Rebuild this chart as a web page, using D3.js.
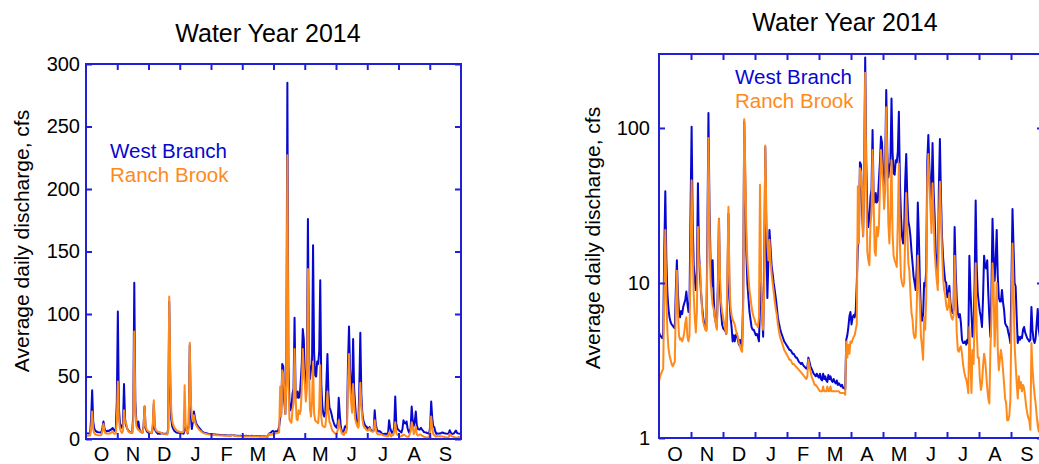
<!DOCTYPE html>
<html><head><meta charset="utf-8">
<script src="https://cdn.jsdelivr.net/npm/d3@7"></script>
<style>
body{margin:0;background:#fff;}
svg{display:block;}
text{font-family:"Liberation Sans",Arial,sans-serif;}
</style>
</head><body>
<svg id="c" width="1039" height="464"></svg>
<script>
const months = ["O","N","D","J","F","M","A","M","J","J","A","S"];
const seriesNames = ["West Branch","Ranch Brook"];
const titleText = "Water Year 2014";
const yLabelText = "Average daily discharge, cfs";
const linearTicks = [0,50,100,150,200,250,300];
const logTicks = [1,10,100];

// Daily mean discharge, cfs, Oct 1 2013 - Sep 30 2014
const westBranch = [
4.8,4.6,4.5,4.4,4.7,16,39,14,8.5,6.8,6.0,5.6,5.4,5.3,5.2,5.1,9,14,8.5,6.5,6.0,6.6,6.3,7.0,7.4,7.8,8.8,7.4,6.5,7.5,30,
102,25,13,10.4,9.0,12,44,16,11,8.5,7.0,6.0,5.4,5.1,5.0,20,125,30,14,9.5,14,8.0,6.0,5.6,5.2,10,26,9.0,6.5,5.4,
5.1,5.0,4.9,4.7,9,28,8.0,6.0,5.2,4.2,4.6,4.2,4.6,4.7,4.3,4.0,4.3,4.1,3.9,8,110,45,16,10,8.0,6.5,5.8,5.2,5.0,5.0,4.8,
4.6,4.7,4.5,4.2,7,10,6.5,4.5,12,75,20,8,14,22,17,13,11.5,10,9,8,7,6.0,5.5,5.1,4.8,4.6,4.4,4.2,4.1,4.0,3.9,
3.8,3.7,3.7,3.6,3.5,3.5,3.4,3.3,3.3,3.2,3.1,3.05,3.0,3.05,2.95,2.9,2.85,2.8,2.85,3.3,3.1,2.9,2.8,2.7,2.6,2.55,2.5,2.6,
2.5,2.45,2.6,2.4,2.35,2.6,2.4,2.5,2.35,2.3,2.55,2.4,2.5,2.35,2.3,2.4,2.3,2.25,2.35,2.2,2.25,2.2,2.15,2.2,2.1,2.1,2.05,4.3,4.6,5.2,6.1,
6.5,5.4,6.0,6.2,6.0,6.6,10,17,20,60,58,30,20,50,285,60,30,23,26,36,40,97,36,33,38,33,34,46,60,88,
80,48,40,56,176,70,48,56,60,155,70,51,50,62,60,70,127,44,27,20,18,22,45,68,36,25,23,20,16,13.4,11,
10,9,13,33,20,10,6.5,5.7,6.0,10,9.5,12,60,90,56,40,35,80,40,27,16,12.7,10,40,85,36,20,14.7,12,10.3,
10,8.1,8.5,9.6,7.5,6.7,6.4,6.8,23,12,8,6.4,6.0,6.3,5.5,4.3,4.1,4.1,4.2,4.0,4.3,4.1,15,9,6.4,4.5,5.0,10,34,12.7,8.5,
7.4,6.5,6.0,5.2,8,15,12.7,12.4,14,8.6,6,4.5,9,26,15,10.3,14,22,11,8.1,7.6,7.6,9,7.5,6.7,5.5,5.3,5.2,4.8,4.5,4.1,
10,30,17,10,9.5,6,4.1,4.5,4.3,4.5,4.4,5.0,5.2,4.8,4.6,4.4,4.3,4.2,4.3,7,5.0,4.3,4.1,4.4,5.5,6.8,5.0,4.5,4.3,4.2
];
const ranchBrook = [
2.3,2.5,2.6,2.7,2.8,9,22,8,4.8,3.8,3.4,3.2,3.0,2.9,3.0,3.1,7,12,6.5,4.6,4.3,4.4,4.2,4.4,4.8,5.5,6.0,4.5,4.2,4.6,14,
46,16,8.5,6.0,4.8,6.5,23,13,13,9,6.5,5.6,5.3,5.0,4.9,15,86,24,10.5,8.5,7.2,6.8,6.0,5.4,5.0,9,26,11,7.5,6.5,
6.0,5.4,5.0,4.7,12,31,10,7.0,6.2,5.8,5.6,5.4,5.0,4.7,4.5,4.1,3.9,3.7,3.6,7,114,55,22,14,11,9,8,7,6.4,6.0,5.8,
5.4,5.4,5.2,6,43,12,6,5.0,9,77,30,18,14,19,14,11.5,10,8.8,7.6,6.8,6.2,5.4,4.9,4.5,4.3,4.1,3.9,3.7,3.6,3.5,3.4,
3.3,3.2,3.2,3.1,3.0,3.0,2.95,2.9,2.85,2.8,2.75,2.7,2.65,2.6,2.55,2.5,2.45,2.4,2.5,3.2,2.9,2.7,2.5,2.4,2.3,2.2,2.2,2.15,
2.1,2.05,2.0,2.0,2.0,2.15,2.0,2.0,2.0,2.15,2.0,2.0,2.15,2.0,2.0,2.0,2.0,2.0,2.0,2.0,2.0,1.95,1.95,1.95,1.95,1.95,1.9,4.2,3.3,4.0,3.5,
4.2,4.1,4.3,4.5,4.6,5.0,5.4,42,18,55,52,40,20,45,227,45,16,14,13,24,28,72,34,16,15,23,20,23,40,72,
55,44,30,40,136,60,24,18,30,62,21,15,14,13.4,12.7,25,59,18,11,10,9.5,10,20,38,22,13.4,12,8.6,6.4,5.8,4.7,
4.4,4.5,7,15,10,7.4,4.5,3.9,3.2,6,5,8,45,68,44,30,21,44,28,16,12.7,10.4,9,25,45,27,16,11,9,8.4,
7.2,6.7,7.0,8.6,6.5,6.0,5.8,6.2,15,9,4.8,3.7,3.6,3.8,3.9,3.5,3.0,2.7,2.5,2.4,2.2,1.95,5.2,3.3,1.95,3.7,3.0,6,13.4,5,3.3,
3.3,2.4,2.04,2.25,2.9,3.5,3.2,2.6,2.1,1.8,1.67,3.7,6,13.4,10,3.9,6,10,3.7,2.74,3.2,3.7,3.3,2.74,2.25,1.8,1.67,1.3,1.3,1.4,1.76,
6,18,9,4,3.0,2.25,1.8,2.5,2.1,2.3,2.0,2.2,2.1,1.85,1.6,1.45,1.35,1.3,1.13,4.1,2.8,2.25,1.9,1.67,1.4,1.2,1.1,1.3,1.8,1.2
];

const AXIS = "#2020d8", BLUE = "#0707cf", ORANGE = "#ff8a1c";
const svg = d3.select("#c");

function panel(cfg, idx) {
  const g = svg.append("g");
  const x = d3.scaleLinear().domain([0, westBranch.length]).range([cfg.x0, cfg.x1]);
  const xm = d3.scaleLinear().domain([0, months.length]).range([cfg.x0, cfg.x1]);
  const y = (cfg.log ? d3.scaleLog() : d3.scaleLinear()).domain(cfg.domain).range([cfg.y1, cfg.y0]);

  const clipId = "clip" + idx;
  g.append("clipPath").attr("id", clipId).append("rect")
    .attr("x", cfg.x0).attr("y", cfg.y0).attr("width", cfg.x1 - cfg.x0).attr("height", cfg.y1 - cfg.y0);

  const line = d3.line().x((d, i) => x(i)).y(d => y(d));
  const series = [[westBranch, BLUE], [ranchBrook, ORANGE]];
  series.forEach(([vals, col]) => {
    g.append("path").attr("clip-path", `url(#${clipId})`).datum(vals)
      .attr("d", line).attr("fill", "none").attr("stroke", col)
      .attr("stroke-width", 2).attr("stroke-linejoin", "round");
  });

  const inner = d3.range(1, months.length);
  const styleAxis = sel => {
    sel.select(".domain").remove();
    sel.selectAll(".tick line").attr("stroke", AXIS).attr("stroke-width", 2);
    sel.selectAll(".tick text").attr("fill", "#000").style("font-size", "20px")
      .style("font-family", '"Liberation Sans", Arial, sans-serif');
  };
  g.append("g").attr("transform", `translate(0,${cfg.y1})`)
    .call(d3.axisBottom(xm).tickValues(inner).tickSize(-6).tickFormat("")).call(styleAxis);
  g.append("g").attr("transform", `translate(0,${cfg.y0})`)
    .call(d3.axisTop(xm).tickValues(inner).tickSize(-6).tickFormat("")).call(styleAxis);
  g.append("g").attr("transform", `translate(${cfg.x0},0)`)
    .call(d3.axisLeft(y).tickValues(cfg.ticks).tickSize(-6).tickPadding(cfg.pad).tickFormat(d3.format("d"))).call(styleAxis);
  g.append("g").attr("transform", `translate(${cfg.x1},0)`)
    .call(d3.axisRight(y).tickValues(cfg.ticks).tickSize(-6).tickFormat("")).call(styleAxis);

  g.append("rect").attr("x", cfg.x0).attr("y", cfg.y0)
    .attr("width", cfg.x1 - cfg.x0).attr("height", cfg.y1 - cfg.y0)
    .attr("fill", "none").attr("stroke", AXIS).attr("stroke-width", 2);

  g.selectAll("text.month").data(months).join("text").attr("class", "month")
    .attr("x", (d, i) => xm(i + 0.5)).attr("y", 461)
    .attr("text-anchor", "middle").style("font-size", "20px").text(d => d);

  g.append("text").attr("x", cfg.tx).attr("y", cfg.ty).attr("text-anchor", "middle")
    .style("font-size", "25px").text(titleText);

  g.append("text").attr("transform", `translate(${cfg.lx},${cfg.ly}) rotate(-90)`)
    .attr("text-anchor", "middle").style("font-size", "21px").text(yLabelText);

  [BLUE, ORANGE].forEach((c, i) => {
    g.append("text").attr("x", cfg.legX).attr("y", cfg.legY + i * 24)
      .attr("fill", c).style("font-size", "20.5px").text(seriesNames[i]);
  });
}

panel({x0: 86, x1: 461, y0: 64, y1: 439, log: false, domain: [0, 300], ticks: linearTicks, pad: 6,
       tx: 268, ty: 42, lx: 29, ly: 241, legX: 110, legY: 158}, 0);
panel({x0: 659, x1: 1043, y0: 54, y1: 438, log: true, domain: [1, 300], ticks: logTicks, pad: 9,
       tx: 845, ty: 31, lx: 600, ly: 238, legX: 735, legY: 84}, 1);
</script>
</body></html>
